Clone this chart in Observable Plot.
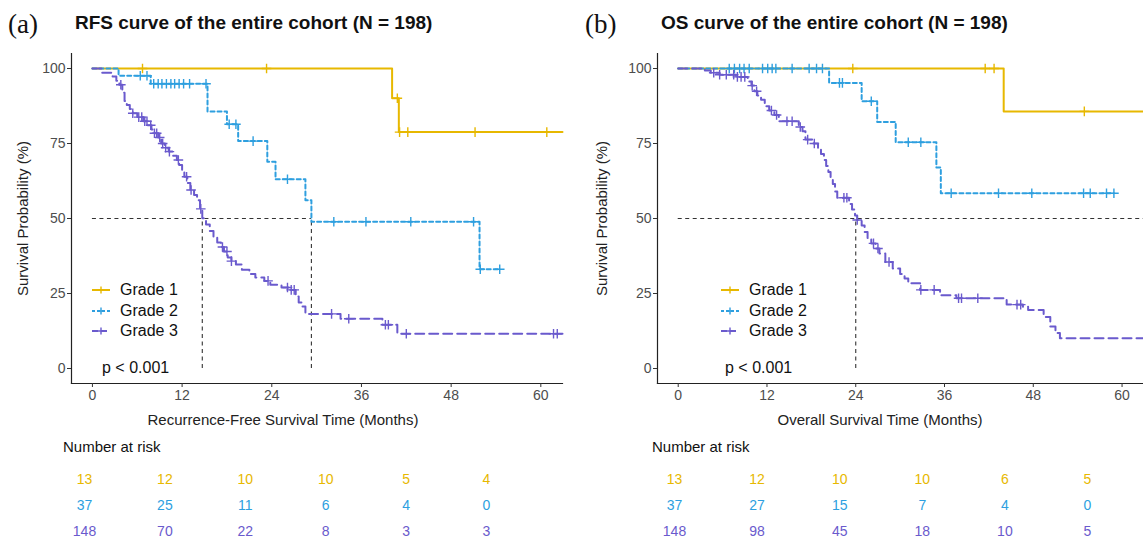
<!DOCTYPE html>
<html><head><meta charset="utf-8">
<script src="https://cdn.jsdelivr.net/npm/d3@7"></script>
<script src="https://cdn.jsdelivr.net/npm/@observablehq/plot@0.6"></script>
<style>
body{margin:0;background:#fff;width:1143px;height:541px;overflow:hidden;position:relative;font-family:"Liberation Sans",Arial,sans-serif;}
.abs{position:absolute;white-space:nowrap;line-height:1;}
.tag{font-family:"Liberation Serif","Times New Roman",serif;font-size:27px;color:#111;}
.title{font-weight:bold;font-size:19px;color:#111;}
.xlab{font-size:15px;color:#222;transform:translateX(-50%);}
.nar{font-size:15px;color:#111;}
.pval{font-size:16px;color:#111;}
.leg{font-size:16px;color:#111;display:flex;align-items:center;}
.leg svg{margin-right:10px;}
</style></head><body>
<div id="root"></div>
<script>
// ---------- shared ----------
const grades = ["Grade 1", "Grade 2", "Grade 3"];
const colors = ["#E7B800", "#2E9FDF", "#6A5ACD"];
const dashes = ["none", "4,3", "9,5"];
const yTicks = [0, 25, 50, 75, 100];
const xTicks = [0, 12, 24, 36, 48, 60];
const riskTimes = [0, 12, 24, 36, 48, 60];

// ---------- (a) RFS ----------
const rfsG1Time = [0, 40.1, 41.0];
const rfsG1Surv = [100, 90.1, 78.8];
const rfsG1End = 62.9;
const rfsG1Censor = [6.7, 23.3, 40.8, 41.1, 42.2, 51.2, 60.8];

const rfsG2Time = [0, 3.5, 7.8, 15.4, 18.0, 19.5, 23.4, 24.5, 28.5, 29.3, 51.8];
const rfsG2Surv = [100, 97.6, 94.9, 85.7, 81.4, 75.8, 68.9, 63.1, 56.1, 48.9, 33.1];
const rfsG2End = 54.5;
const rfsG2Censor = [6.4, 7.3, 8.2, 8.8, 9.3, 9.9, 10.5, 11.0, 11.6, 12.2, 13.0, 15.2, 18.3, 19.2, 21.5, 26.1, 32.3, 36.6, 42.6, 51.0, 51.9, 54.5];

const rfsG3Time = [0, 1.2, 2.7, 3.2, 3.6, 4.0, 4.3, 4.6, 5.0, 5.4, 6.0, 6.8, 7.4, 7.9, 8.3, 8.8, 9.2, 9.7, 10.2, 10.8, 11.3, 11.6, 12.0, 12.3, 12.7, 13.1, 13.6, 14.0, 14.4, 14.7, 15.2, 15.7, 16.2, 16.7, 17.2, 17.6, 18.1, 18.6, 19.2, 20.0, 21.0, 21.8, 23.0, 23.8, 25.3, 26.5, 27.2, 27.6, 28.0, 28.5, 33.2, 38.8, 40.8];
const rfsG3Surv = [100, 98.6, 97.3, 95.9, 94.6, 91.9, 89.2, 87.8, 86.5, 85.1, 83.8, 82.4, 81.1, 79.7, 78.4, 77.0, 75.0, 73.6, 72.3, 70.9, 69.5, 67.8, 65.8, 63.9, 61.8, 59.5, 57.8, 56.1, 53.2, 50.1, 48.0, 45.8, 44.0, 42.0, 40.5, 39.0, 37.0, 35.8, 34.7, 32.9, 31.5, 30.3, 29.2, 27.9, 27.0, 26.2, 24.0, 22.0, 20.7, 18.2, 16.6, 14.6, 11.6];
const rfsG3End = 62.9;
const rfsG3Censor = [3.8, 5.4, 6.2, 6.6, 7.0, 7.3, 7.8, 8.3, 8.6, 9.0, 9.4, 9.8, 10.3, 11.5, 12.6, 13.2, 14.5, 17.4, 18.0, 18.6, 23.5, 26.1, 26.6, 27.0, 32.0, 34.3, 39.2, 39.6, 42.0, 61.7, 62.2];

const rfsMedians = [14.7, 29.3];
const rfsHLineEnd = 29.3;
const rfsRiskG1 = [13, 12, 10, 10, 5, 4];
const rfsRiskG2 = [37, 25, 11, 6, 4, 0];
const rfsRiskG3 = [148, 70, 22, 8, 3, 3];

// ---------- (b) OS ----------
const osG1Time = [0, 44.0];
const osG1Surv = [100, 85.7];
const osG1End = 62.9;
const osG1Censor = [23.6, 41.5, 42.7, 54.9];

const osG2Time = [0, 20.4, 24.8, 26.9, 29.4, 34.9, 35.5];
const osG2Surv = [100, 95.2, 89.1, 82.2, 75.4, 67.0, 58.4];
const osG2End = 58.9;
const osG2Censor = [6.9, 7.6, 8.3, 8.9, 9.6, 11.4, 12.1, 12.7, 13.2, 15.4, 17.7, 18.7, 19.5, 21.8, 22.2, 26.1, 31.1, 32.8, 36.9, 43.3, 47.8, 54.8, 55.7, 57.9, 58.9];

const osG3Time = [0, 3.6, 4.4, 5.6, 7.8, 9.4, 9.9, 10.3, 10.7, 11.2, 11.7, 12.3, 13.0, 13.6, 16.3, 16.8, 17.2, 18.3, 18.9, 19.3, 19.7, 20.0, 20.3, 20.6, 20.9, 21.2, 21.5, 23.1, 23.5, 23.9, 24.2, 24.8, 25.2, 25.6, 26.1, 26.7, 27.2, 28.0, 29.0, 30.0, 30.6, 31.1, 32.7, 35.4, 37.6, 44.4, 46.6, 47.3, 49.4, 50.3, 51.0, 51.6];
const osG3Surv = [100, 99.3, 98.6, 97.9, 97.2, 95.7, 94.3, 92.4, 91.0, 89.6, 87.4, 86.0, 84.5, 82.4, 80.5, 79.1, 76.3, 75.0, 73.0, 71.5, 69.5, 67.5, 65.5, 63.5, 61.5, 59.0, 56.9, 54.8, 53.0, 51.0, 49.5, 47.7, 45.5, 43.5, 41.7, 40.0, 38.3, 35.5, 33.3, 31.5, 30.0, 28.4, 26.2, 24.4, 23.4, 21.3, 20.6, 19.5, 17.2, 14.0, 11.8, 10.1];
const osG3End = 62.9;
const osG3Censor = [4.8, 5.6, 6.5, 7.5, 8.0, 8.5, 9.0, 10.0, 10.6, 12.6, 13.3, 14.7, 15.4, 16.5, 17.5, 18.4, 22.4, 22.8, 24.2, 26.4, 27.0, 28.5, 32.8, 34.6, 37.9, 38.3, 40.5, 45.8, 46.3];

const osMedians = [24.0];
const osHLineEnd = 62.9;
const osRiskG1 = [13, 12, 10, 10, 6, 5];
const osRiskG2 = [37, 27, 15, 7, 4, 0];
const osRiskG3 = [148, 98, 45, 18, 10, 5];

// ---------- helpers ----------
function stepRows(times, surv, end) {
  const rows = times.map((t, i) => ({t, s: surv[i]}));
  rows.push({t: end, s: surv[surv.length - 1]});
  return rows;
}
function survAt(times, surv, t) {
  let s = surv[0];
  for (let i = 0; i < times.length; i++) if (times[i] <= t) s = surv[i];
  return s;
}
function el(cls, style, text) {
  const d = document.createElement("div");
  d.className = "abs " + cls;
  Object.assign(d.style, style);
  if (text != null) d.textContent = text;
  document.getElementById("root").appendChild(d);
  return d;
}

function panel(cfg) {
  const xDomain = [-2.8, 62.9];
  const marks = [
    Plot.ruleY([50], {x1: 0, x2: cfg.hEnd, stroke: "#333", strokeWidth: 1.1, strokeDasharray: "4,3.5"}),
    Plot.ruleX(cfg.medians, {y1: 0, y2: 50, stroke: "#333", strokeWidth: 1.1, strokeDasharray: "4,3.5"})
  ];
  cfg.series.forEach((sr, i) => {
    marks.push(Plot.line(stepRows(sr.time, sr.surv, sr.end), {x: "t", y: "s", curve: "step-after", stroke: colors[i], strokeWidth: 2, strokeDasharray: dashes[i]}));
  });
  cfg.series.forEach((sr, i) => {
    marks.push(Plot.dot(sr.censor.map(t => ({t, s: survAt(sr.time, sr.surv, t)})), {x: "t", y: "s", symbol: "plus", r: 3.2, stroke: colors[i], strokeWidth: 1.4}));
  });
  marks.push(
    Plot.frame({anchor: "left", stroke: "#222", strokeWidth: 1.2}),
    Plot.frame({anchor: "bottom", stroke: "#222", strokeWidth: 1.2}),
    Plot.axisY({ticks: yTicks, tickSize: 4, tickPadding: 2, stroke: "#333", fill: "#4d4d4d", fontSize: 14, label: null}),
    Plot.axisY({ticks: [], tickSize: 0, fill: "#222", fontSize: 15, label: "Survival Probability (%)", labelAnchor: "center", labelOffset: cfg.yLabelOffset, labelArrow: false}),
    Plot.axisX({ticks: xTicks, tickSize: 4, tickPadding: 3, stroke: "#333", fill: "#4d4d4d", fontSize: 14, label: null})
  );
  const main = Plot.plot({
    width: cfg.width, height: 365,
    marginTop: 8, marginBottom: 27, marginLeft: 71, marginRight: cfg.marginRight,
    x: {domain: xDomain}, y: {domain: [-5, 105]},
    style: {fontFamily: "Liberation Sans, Arial, sans-serif", fontSize: "14px", color: "#4d4d4d", background: "transparent", overflow: "visible"},
    marks
  });
  const box = el("", {left: cfg.left + "px", top: "45px"});
  box.appendChild(main);

  // risk table
  const riskRows = [];
  cfg.risk.forEach((arr, gi) => arr.forEach((n, k) => riskRows.push({t: riskTimes[k], g: grades[gi], n})));
  const risk = Plot.plot({
    width: cfg.width, height: 85,
    marginTop: 18, marginBottom: 14, marginLeft: cfg.riskLeft, marginRight: cfg.width - cfg.riskRight,
    x: {domain: [0, 60], axis: null}, y: {type: "point", domain: grades, axis: null, padding: 0},
    color: {domain: grades, range: colors},
    style: {fontFamily: "Liberation Sans, Arial, sans-serif", background: "transparent", overflow: "visible"},
    marks: [Plot.text(riskRows, {x: "t", y: "g", text: d => String(d.n), fill: "g", fontSize: 14})]
  });
  const rbox = el("", {left: cfg.left + "px", top: "460px"});
  rbox.appendChild(risk);

  // texts
  el("tag", {left: cfg.tagX + "px", top: "11px"}, cfg.tag);
  el("title", {left: cfg.titleX + "px", top: "13px"}, cfg.title);
  el("xlab", {left: cfg.xlabX + "px", top: "412px"}, cfg.xlab);
  el("nar", {left: cfg.narX + "px", top: "439px"}, "Number at risk");
  el("pval", {left: cfg.pX + "px", top: "360px"}, "p < 0.001");
  // legend
  grades.forEach((g, i) => {
    const row = el("leg", {left: cfg.legX + "px", top: (282 + i * 20.5) + "px"});
    const svg = d3.create("svg").attr("width", 18).attr("height", 12);
    svg.append("line").attr("x1", 0).attr("x2", 18).attr("y1", 6).attr("y2", 6)
      .attr("stroke", colors[i]).attr("stroke-width", 2).attr("stroke-dasharray", dashes[i] === "none" ? null : (i === 1 ? "3,2" : "6,3"));
    svg.append("path").attr("d", "M9,2.5V9.5M5.5,6H12.5").attr("stroke", colors[i]).attr("stroke-width", 1.4);
    row.appendChild(svg.node());
    const sp = document.createElement("span"); sp.textContent = g; row.appendChild(sp);
  });
}

panel({
  left: 0, width: 575, marginRight: 13, yLabelOffset: 54,
  tag: "(a)", tagX: 8, title: "RFS curve of the entire cohort (N = 198)", titleX: 75,
  xlab: "Recurrence-Free Survival Time (Months)", xlabX: 283,
  narX: 63, pX: 102, legX: 92,
  riskLeft: 84, riskRight: 486,
  medians: rfsMedians, hEnd: rfsHLineEnd,
  series: [
    {time: rfsG1Time, surv: rfsG1Surv, end: rfsG1End, censor: rfsG1Censor},
    {time: rfsG2Time, surv: rfsG2Surv, end: rfsG2End, censor: rfsG2Censor},
    {time: rfsG3Time, surv: rfsG3Surv, end: rfsG3End, censor: rfsG3Censor}
  ],
  risk: [rfsRiskG1, rfsRiskG2, rfsRiskG3]
});
panel({
  left: 586, width: 557, marginRight: 0, yLabelOffset: 61,
  tag: "(b)", tagX: 585, title: "OS curve of the entire cohort (N = 198)", titleX: 661,
  xlab: "Overall Survival Time (Months)", xlabX: 880,
  narX: 652, pX: 725, legX: 721,
  riskLeft: 88, riskRight: 501,
  medians: osMedians, hEnd: osHLineEnd,
  series: [
    {time: osG1Time, surv: osG1Surv, end: osG1End, censor: osG1Censor},
    {time: osG2Time, surv: osG2Surv, end: osG2End, censor: osG2Censor},
    {time: osG3Time, surv: osG3Surv, end: osG3End, censor: osG3Censor}
  ],
  risk: [osRiskG1, osRiskG2, osRiskG3]
});
</script>
</body></html>
